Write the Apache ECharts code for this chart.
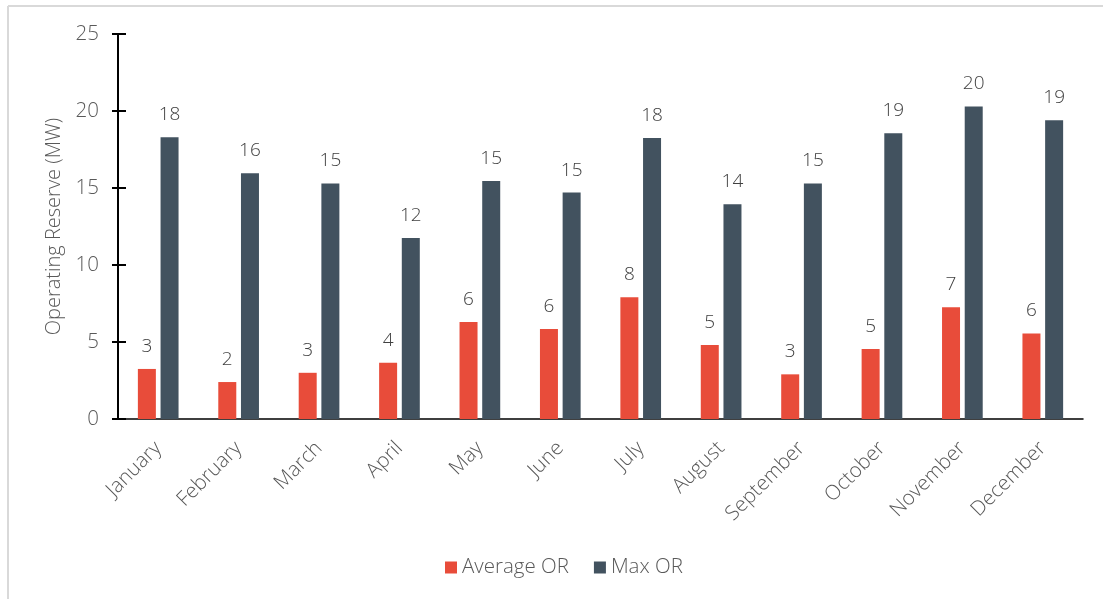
<!DOCTYPE html>
<html>
<head>
<meta charset="utf-8">
<style>
  html, body { margin: 0; padding: 0; background: #ffffff; }
  #chart { width: 1103px; height: 599px; }
</style>
<script src="https://cdn.jsdelivr.net/npm/echarts@6/dist/echarts.min.js"></script>
</head>
<body>
<div id="chart"></div>
<script>
// Monthly operating reserve, in MW
const months = ['January', 'February', 'March', 'April', 'May', 'June',
  'July', 'August', 'September', 'October', 'November', 'December'];
const averageOR = [3.25, 2.4, 3.0, 3.65, 6.3, 5.85, 7.9, 4.8, 2.9, 4.55, 7.25, 5.55];
const maxOR = [18.3, 15.95, 15.3, 11.75, 15.45, 14.7, 18.25, 13.95, 15.3, 18.55, 20.3, 19.4];
const yTicks = { min: 0, max: 25, interval: 5 };

const FONT = 'Open Sans';
const TEXT = '#595959';

const chart = echarts.init(document.getElementById('chart'), null, { renderer: 'canvas' });

const valueLabel = {
  show: true,
  position: 'top',
  distance: 13,
  fontFamily: FONT,
  fontWeight: 300,
  fontSize: 19,
  color: '#404040',
  formatter: p => Math.round(p.value)
};

chart.setOption({
  animation: false,
  backgroundColor: '#ffffff',
  graphic: [
    { type: 'line', shape: { x1: 8, y1: 6, x2: 8, y2: 599 }, style: { stroke: '#d9d9d9', lineWidth: 2 } },
    { type: 'line', shape: { x1: 8, y1: 6, x2: 1103, y2: 6 }, style: { stroke: '#d9d9d9', lineWidth: 2 } }
  ],
  grid: { left: 118, right: 20, top: 34, bottom: 180, containLabel: false },
  legend: {
    bottom: 16,
    left: 440,
    itemWidth: 12,
    itemHeight: 12,
    itemGap: 25,
    icon: 'rect',
    textStyle: { fontFamily: FONT, fontWeight: 300, fontSize: 20.5, color: TEXT },
    data: ['Average OR', 'Max OR']
  },
  xAxis: {
    type: 'category',
    data: months,
    axisLine: { lineStyle: { color: '#000000', width: 1.5 } },
    axisTick: { show: false },
    axisLabel: {
      interval: 0,
      rotate: 45,
      margin: 26,
      fontFamily: FONT,
      fontWeight: 300,
      fontSize: 20.5,
      color: TEXT
    }
  },
  yAxis: [
    {
      type: 'value',
      min: yTicks.min, max: yTicks.max, interval: yTicks.interval,
      name: 'Operating Reserve (MW)',
      nameLocation: 'middle',
      nameGap: 52,
      nameTextStyle: { fontFamily: FONT, fontWeight: 300, fontSize: 20, color: TEXT },
      axisLine: { show: true, lineStyle: { color: '#000000', width: 2 } },
      axisTick: { show: true, length: 6, lineStyle: { color: '#000000', width: 2 } },
      splitLine: { show: false },
      axisLabel: { margin: 19, fontFamily: FONT, fontWeight: 300, fontSize: 20.5, color: TEXT }
    },
    {
      // inner half of the crossing tick marks
      type: 'value',
      position: 'left',
      min: yTicks.min, max: yTicks.max, interval: yTicks.interval,
      axisLine: { show: false },
      axisTick: { show: true, inside: true, length: 8, lineStyle: { color: '#000000', width: 2 } },
      axisLabel: { show: false },
      splitLine: { show: false }
    }
  ],
  series: [
    {
      name: 'Average OR',
      type: 'bar',
      data: averageOR,
      barWidth: 18,
      barGap: '26%',
      itemStyle: { color: '#e84c3a' },
      label: valueLabel
    },
    {
      name: 'Max OR',
      type: 'bar',
      data: maxOR,
      barWidth: 18,
      barGap: '26%',
      itemStyle: { color: '#42525f' },
      label: valueLabel
    }
  ]
});
</script>
</body>
</html>
